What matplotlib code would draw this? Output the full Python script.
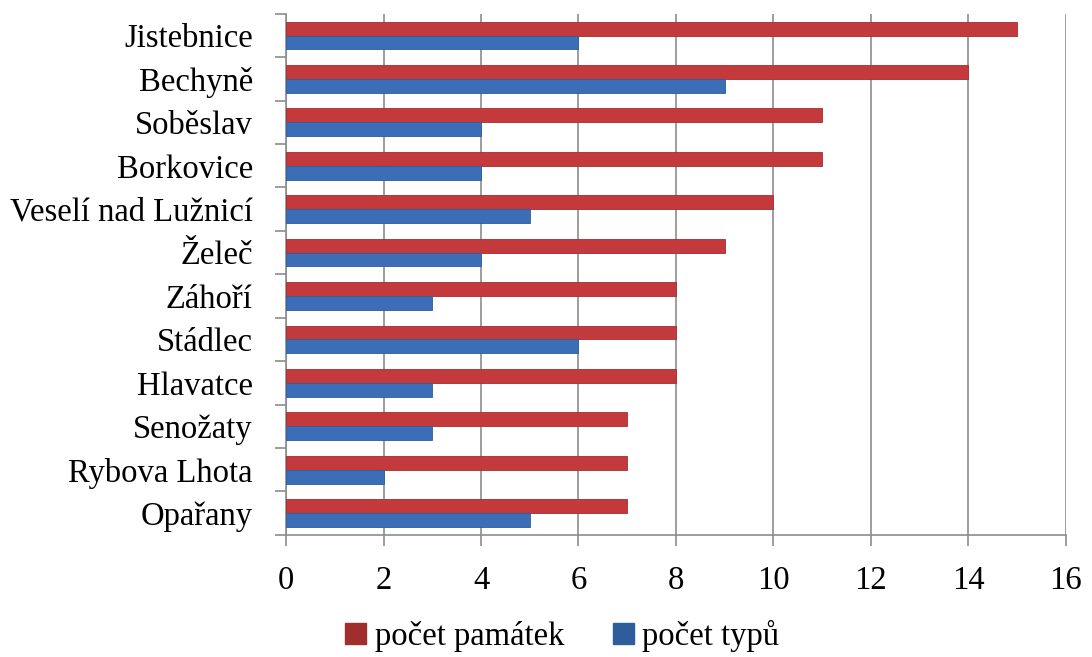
import numpy as np
import matplotlib.pyplot as plt
from matplotlib.patches import Patch

places = ["Jistebnice", "Bechyně", "Soběslav", "Borkovice", "Veselí nad Lužnicí",
          "Želeč", "Záhoří", "Stádlec", "Hlavatce", "Senožaty", "Rybova Lhota", "Opařany"]
pamatek = [15, 14, 11, 11, 10, 9, 8, 8, 8, 7, 7, 7]
typu = [6, 9, 4, 4, 5, 4, 3, 6, 3, 3, 2, 5]
x_ticks = [0, 2, 4, 6, 8, 10, 12, 14, 16]

red = '#C43A3C'
blue = '#3B6EB6'

plt.rcParams['font.family'] = ['Liberation Serif', 'DejaVu Serif']

fig = plt.figure(figsize=(10.92, 6.57), dpi=100)
ax = fig.add_axes([0.262, 0.186, 0.714, 0.793])

n = len(places)
y = np.arange(n)[::-1]
h = 0.32
ax.barh(y + h / 2, pamatek, height=h, color=red, edgecolor='#A32E30', linewidth=0.6, zorder=3)
ax.barh(y - h / 2, typu, height=h, color=blue, edgecolor='#2F5C9C', linewidth=0.6, zorder=3)

ax.set_xlim(0, 16)
ax.set_ylim(-0.5, n - 0.5)
ax.set_xticks(x_ticks)
ax.set_xticklabels([str(v) for v in x_ticks], fontsize=23.5)
ax.xaxis.grid(True, color='#8C8C8C', linewidth=1.2, zorder=0)
ax.tick_params(axis='x', length=8, width=1.2, color='#8C8C8C', pad=14)

# category labels between boundary ticks
ax.set_yticks(np.arange(n + 1) - 0.5)
ax.set_yticklabels([])
ax.set_yticks(y, minor=True)
ax.set_yticklabels(places, minor=True, fontsize=23.5)
ax.tick_params(axis='y', which='major', length=8, width=1.2, color='#8C8C8C')
ax.tick_params(axis='y', which='minor', length=0, pad=24)

for s in ['top', 'right']:
    ax.spines[s].set_visible(False)
for s in ['left', 'bottom']:
    ax.spines[s].set_color('#8C8C8C')
    ax.spines[s].set_linewidth(1.2)

handles = [Patch(color='#A02E2E', label='počet památek'),
           Patch(color='#2D5D9B', label='počet typů')]
fig.legend(handles=handles, loc='center', bbox_to_anchor=(0.515, 0.032), ncol=2,
           frameon=False, fontsize=23.5, handlelength=0.65, handleheight=0.65,
           handletextpad=0.25, columnspacing=1.5)

fig.savefig('out.png', dpi=100)
